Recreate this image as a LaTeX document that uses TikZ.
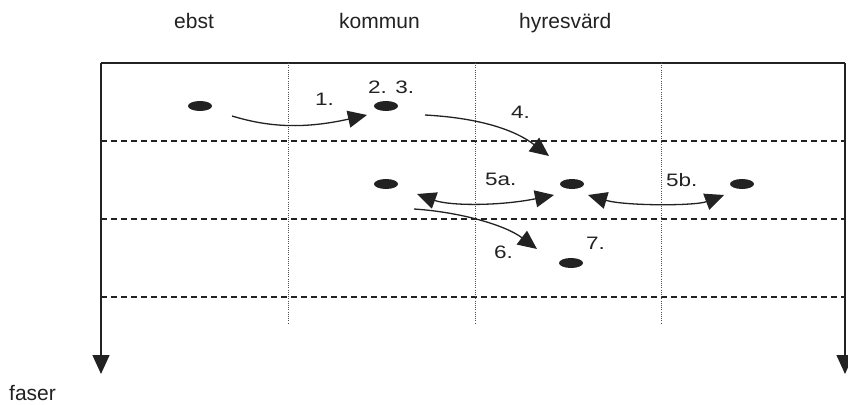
\documentclass[tikz,border=0pt]{standalone}
\usepackage{fontspec}
\setmainfont{Liberation Sans}
\newfontfamily\numfont[FakeStretch=1.25]{Liberation Sans}
\usetikzlibrary{arrows.meta,shapes.geometric}
\definecolor{ink}{HTML}{222222}
\tikzset{
  frame/.style={draw=ink, line width=1.4pt},
  phase/.style={draw=ink, line width=1.3pt, dash pattern=on 6pt off 4pt},
  col/.style={draw=ink!80, line width=0.8pt, dash pattern=on 1pt off 1.2pt},
  actor/.style={ellipse, fill=ink, draw=none, minimum width=24pt, minimum height=10pt, inner sep=0pt},
  tip/.style={-{Triangle[length=19pt,width=17pt]}},
  twotip/.style={{Triangle[length=19pt,width=17pt]}-{Triangle[length=19pt,width=17pt]}},
  flow/.style={draw=ink, line width=1.3pt},
  head/.style={anchor=base west, inner sep=0pt, font=\fontsize{21}{25}\selectfont, text=ink},
  num/.style={anchor=base west, inner sep=0pt, font=\numfont\fontsize{18}{20}\selectfont, text=ink}
}
\begin{document}
\begin{tikzpicture}[x=1pt,y=-1pt]
\useasboundingbox (0,0) rectangle (848,404);
\fill[white] (0,0) rectangle (848,404);
% headers
\node[head] (hE) at (174,29) {ebst};
\node[head] (hK) at (339,29) {kommun};
\node[head] (hH) at (519,29) {hyresvärd};
\node[head] (hF) at (9,400) {faser};
% frame
\coordinate (tl) at (101,63);
\coordinate (tr) at (845,63);
\coordinate (bl) at (101,374);
\coordinate (br) at (845,374);
\draw[frame] (tl) -- (tr);
\draw[frame, -{Triangle[length=19pt,width=17pt]}] (tl) -- (bl);
\draw[frame, -{Triangle[length=19pt,width=17pt]}] (tr) -- (br);
% phase lines
\foreach \y/\n in {141/a,219/b,297/c}{
  \coordinate (p\n l) at (101,\y);
  \coordinate (p\n r) at (845,\y);
  \draw[phase] (p\n l) -- (p\n r);
}
% column lines
\foreach \x/\n in {288/a,475/b,661/c}{
  \coordinate (c\n t) at (\x,63);
  \coordinate (c\n b) at (\x,323);
  \draw[col] (c\n t) -- (c\n b);
}
% actors
\node[actor] (e1) at (200,106) {};
\node[actor] (k1) at (386,106) {};
\node[actor] (k2) at (386,184) {};
\node[actor] (h2) at (572,184) {};
\node[actor] (v2) at (742,184) {};
\node[actor] (h3) at (571,263) {};
% connector end points
\coordinate (a1s) at (232,116);
\coordinate (a1e) at (367,115);
\coordinate (a4s) at (425,115);
\coordinate (a4e) at (549,156);
\coordinate (a5as) at (417,194);
\coordinate (a5ae) at (554,195);
\coordinate (a5bs) at (588,195);
\coordinate (a5be) at (724,195);
\coordinate (a6s) at (414,209);
\coordinate (a6e) at (537,249);
% connectors
\draw[flow, tip] (a1s) .. controls (265,126) and (300,130) .. (a1e);
\draw[flow, tip] (a4s) .. controls (480,118) and (515,130) .. (a4e);
\draw[flow, tip] (a6s) .. controls (460,212) and (505,225) .. (a6e);
\draw[flow, twotip] (a5as) .. controls (450,206) and (500,206) .. (a5ae);
\draw[flow, twotip] (a5bs) .. controls (625,206) and (695,206) .. (a5be);
% labels
\node[num] (l1) at (315,105.5) {1.};
\node[num] (l23) at (368,93) {2. 3.};
\node[num] (l4) at (511,118) {4.};
\node[num] (l5a) at (485,185) {5a.};
\node[num] (l5b) at (666,186) {5b.};
\node[num] (l6) at (494,258) {6.};
\node[num] (l7) at (586,249) {7.};
\end{tikzpicture}
\end{document}
